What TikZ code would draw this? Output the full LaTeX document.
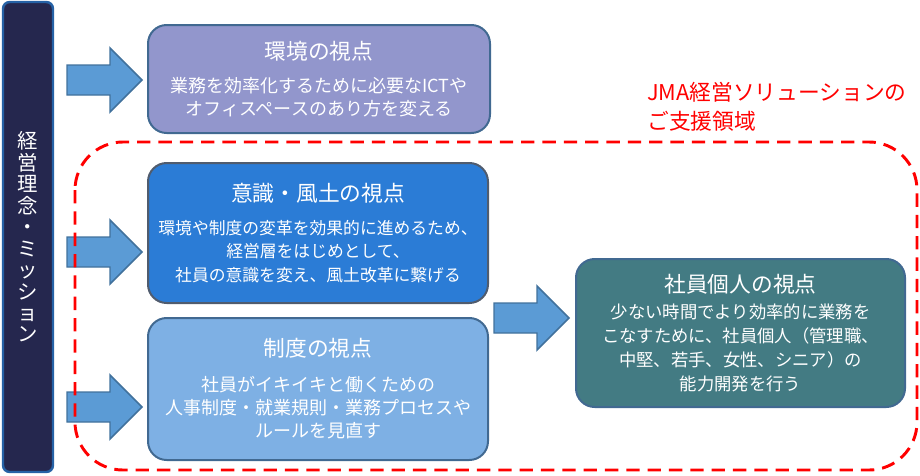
\documentclass[tikz,border=0pt]{standalone}
\usepackage{fontspec}
\setmainfont{Noto Sans CJK JP}
\usetikzlibrary{calc}
\definecolor{barnavy}{RGB}{37,39,78}
\definecolor{barblue}{RGB}{38,98,166}
\definecolor{arrowfill}{RGB}{91,155,213}
\definecolor{arrowline}{RGB}{65,113,156}
\definecolor{envfill}{RGB}{146,150,204}
\definecolor{mindfill}{RGB}{43,124,214}
\definecolor{sysfill}{RGB}{126,176,228}
\definecolor{indfill}{RGB}{67,123,131}
\definecolor{boxline}{RGB}{65,105,145}
\definecolor{mindline}{RGB}{80,92,110}
\newcommand{\blockarrow}[2]{%
  \draw[arrowbody] ($(#1)+(0,15)$) -- ($(#2)+(-32,15)$) -- ($(#2)+(-32,32)$)
    -- (#2) -- ($(#2)+(-32,-32)$) -- ($(#2)+(-32,-15)$) -- ($(#1)+(0,-15)$) -- cycle;}
\newcommand{\boxtitle}[1]{{\fontsize{16.3}{20}\selectfont #1}}
\begin{document}
\begin{tikzpicture}[x=0.75pt, y=-0.75pt,
    view/.style={draw=boxline, line width=1.5pt, rounded corners=14pt, text=white,
      align=center, font=\fontsize{13.5}{17.6}\selectfont},
    arrowbody/.style={fill=arrowfill, draw=arrowline, line width=1.1pt, line join=miter},
    regionframe/.style={draw=red, line width=2.2pt, dash pattern=on 10pt off 6pt, rounded corners=36pt}]
    \useasboundingbox (0,0) rectangle (920,475);

    % 1. 経営理念・ミッション
    \node[fill=barnavy, draw=barblue, line width=1.8pt, rounded corners=5pt,
      minimum width=37.5pt, minimum height=352.5pt, text=white, align=center,
      font=\fontsize{15.3}{16.1}\selectfont] (mission) at (28,237)
      {経\\営\\理\\念\\・\\ミ\\ッ\\シ\\ョ\\ン};

    % 2. 四つの視点
    \node[view, fill=envfill, minimum width=256.5pt, minimum height=81pt] (env) at (319,79)
      {\boxtitle{環境の視点}\\[7pt]業務を効率化するために必要なICTや\\オフィスペースのあり方を変える};
    \node[view, fill=mindfill, draw=mindline, minimum width=255pt, minimum height=105pt,
      font=\fontsize{12.6}{17.8}\selectfont] (mind) at (318,233)
      {\boxtitle{意識・風土の視点}\\[7pt]環境や制度の変革を効果的に進めるため、\\経営層をはじめとして、\\社員の意識を変え、風土改革に繋げる};
    \node[view, fill=sysfill, minimum width=255pt, minimum height=106.5pt] (sys) at (318,389)
      {\boxtitle{制度の視点}\\[8pt]社員がイキイキと働くための\\人事制度・就業規則・業務プロセスや\\ルールを見直す};
    \node[view, fill=indfill, minimum width=246.75pt, minimum height=111pt,
      font=\fontsize{13}{18}\selectfont] (ind) at (740.5,333)
      {\boxtitle{社員個人の視点}\\[2pt]少ない時間でより効率的に業務を\\こなすために、社員個人（管理職、\\中堅、若手、女性、シニア）の\\能力開発を行う};

    % 3. 矢印
    \coordinate (s1) at (67,80);
    \coordinate (s2) at (67,252);
    \coordinate (s3) at (67,407);
    \coordinate (s4) at (494,318);
    \coordinate (t1) at ($(env.west |- s1)+(-5,0)$);
    \coordinate (t2) at ($(mind.west |- s2)+(-5,0)$);
    \coordinate (t3) at ($(sys.west |- s3)+(-5,0)$);
    \coordinate (t4) at ($(ind.west |- s4)+(-6,0)$);
    \blockarrow{s1}{t1}
    \blockarrow{s2}{t2}
    \blockarrow{s3}{t3}
    \blockarrow{s4}{t4}

    % 4. 支援領域
    \draw[regionframe] (75,142) rectangle (917,470);
    \node[anchor=west, align=left, text=red, font=\fontsize{16.3}{21.75}\selectfont, inner sep=0pt]
      (scope) at (647,107) {JMA経営ソリューションの\\ご支援領域};
\end{tikzpicture}
\end{document}
